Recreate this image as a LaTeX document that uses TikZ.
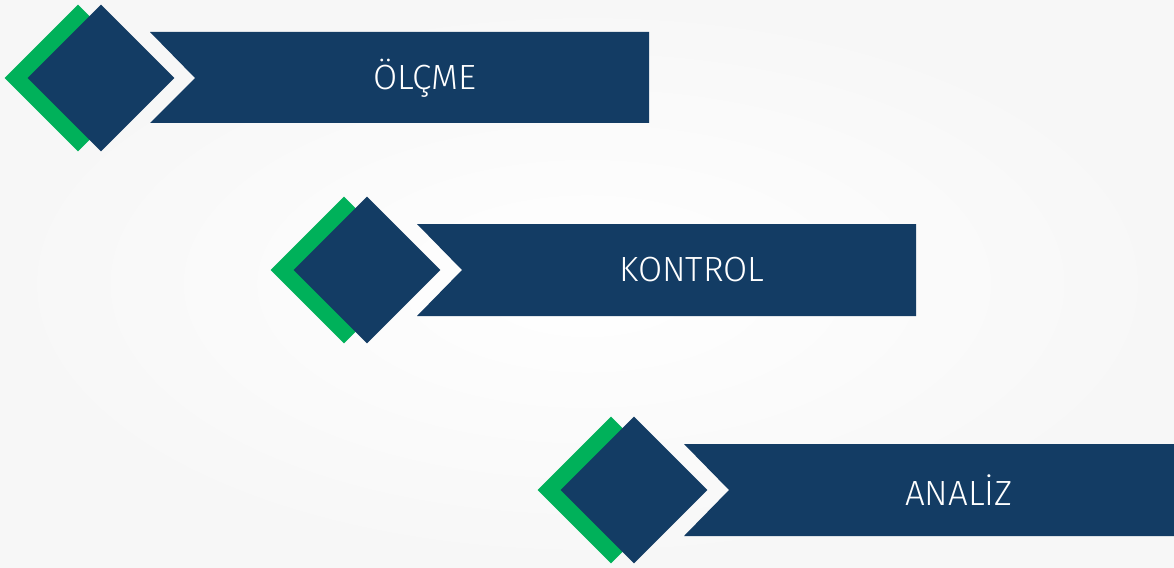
\documentclass[tikz,border=0pt]{standalone}
\usepackage{fontspec}
\setmainfont{Fira Sans Light}
\usetikzlibrary{shapes.geometric}
\definecolor{navy}{HTML}{133C64}
\definecolor{leaf}{HTML}{00B15A}
\definecolor{bgedge}{HTML}{F7F7F7}
\tikzset{
  gem/.style={diamond, aspect=1, inner sep=0pt, minimum size=147pt, draw=none},
  greengem/.style={gem, fill=leaf},
  bluegem/.style={gem, fill=navy},
  banner/.style={fill=navy, draw=none},
  label/.style={text=white, font=\fontsize{35}{38}\selectfont, inner sep=0pt}
}
\begin{document}
\begin{tikzpicture}[x=1pt,y=-1pt]
  \useasboundingbox (0,0) rectangle (1174,567);
  \shade[inner color=white, outer color=bgedge] (0,0) rectangle (1174,567);
  % group 1
  \node[greengem] (g1) at (78,78) {};
  \node[bluegem] (b1) at (101,78) {};
  \fill[banner] (150,32) -- (649,32) -- (649,123) -- (150,123) -- (195,78) -- cycle;
  \node[label] (t1) at (425,78) {ÖLÇME};
  % group 2
  \node[greengem] (g2) at (344,270) {};
  \node[bluegem] (b2) at (367,270) {};
  \fill[banner] (417,224) -- (916,224) -- (916,316) -- (417,316) -- (462,270) -- cycle;
  \node[label] (t2) at (692,270) {KONTROL};
  % group 3
  \node[greengem] (g3) at (611,490) {};
  \node[bluegem] (b3) at (634,490) {};
  \fill[banner] (684,444) -- (1180,444) -- (1180,536) -- (684,536) -- (729,490) -- cycle;
  \node[label] (t3) at (959,490) {ANALİZ};
\end{tikzpicture}
\end{document}
